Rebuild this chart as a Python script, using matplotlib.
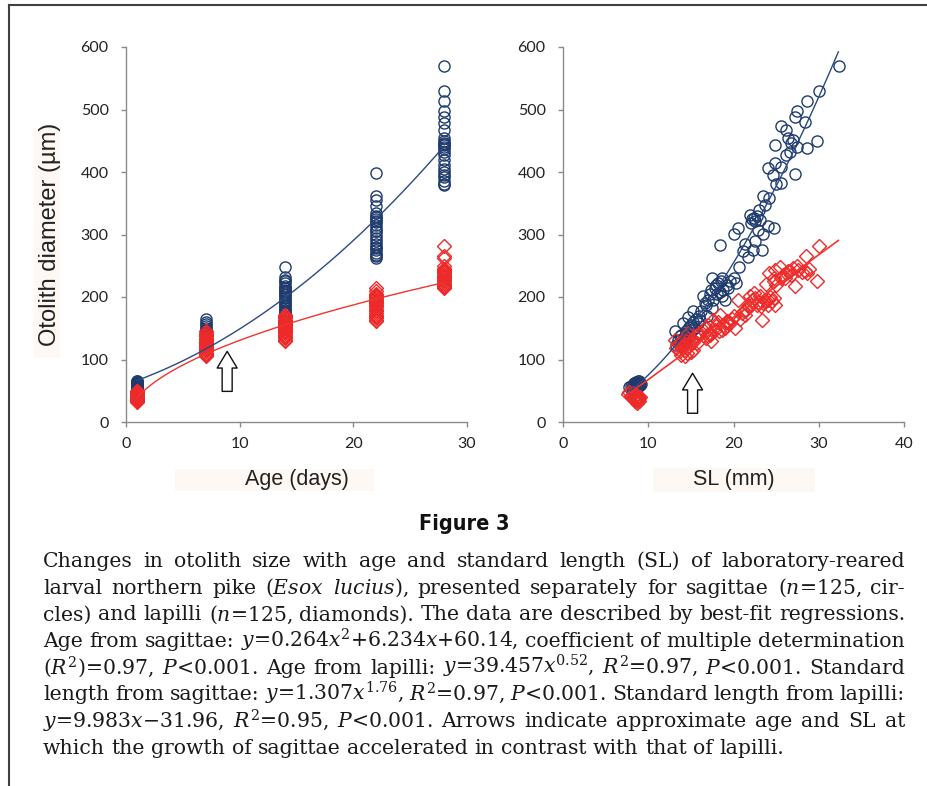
import matplotlib
matplotlib.use('Agg')
import matplotlib.pyplot as plt
import numpy as np
from matplotlib.lines import Line2D
from matplotlib.patches import Rectangle

plt.rcParams['mathtext.fontset'] = 'dejavuserif'

# ---------------- data ----------------
ages = [1, 7, 14, 22, 28]
sag_age = [
    [50, 51, 52, 53, 54, 55, 55, 56, 57, 57, 58, 58, 59, 60, 60, 61, 61, 62, 62, 63, 63, 64, 65, 66, 56],
    [165, 160, 157, 153, 150, 148, 147, 145, 143, 142, 140, 138, 137, 135, 133, 132, 130, 128, 127, 125, 123, 122, 120, 118, 140],
    [248, 232, 228, 225, 222, 218, 215, 212, 210, 208, 205, 203, 200, 198, 195, 192, 190, 188, 185, 183, 180, 178, 176, 175, 215],
    [398, 362, 355, 345, 335, 330, 328, 325, 322, 320, 315, 310, 305, 300, 295, 290, 285, 280, 278, 275, 270, 268, 265, 262, 305],
    [570, 530, 513, 497, 488, 478, 468, 455, 450, 447, 445, 443, 440, 437, 432, 428, 420, 412, 405, 400, 395, 392, 385, 381, 380],
]
lap_age = [
    [32, 33, 34, 35, 36, 36, 37, 38, 38, 39, 40, 40, 41, 42, 42, 43, 44, 45, 46, 47, 48, 49, 50, 39, 41],
    [105, 107, 109, 111, 113, 115, 117, 118, 120, 121, 122, 124, 125, 127, 128, 130, 132, 133, 135, 137, 139, 140, 142, 145, 126],
    [130, 132, 134, 136, 138, 140, 142, 144, 146, 148, 150, 151, 152, 154, 155, 157, 158, 160, 162, 164, 166, 168, 170, 172, 150],
    [162, 164, 166, 168, 170, 172, 175, 178, 180, 183, 185, 187, 188, 190, 192, 193, 195, 196, 198, 200, 201, 203, 205, 210, 215],
    [215, 216, 218, 220, 222, 223, 225, 227, 228, 230, 232, 233, 235, 236, 238, 240, 242, 243, 245, 245, 250, 263, 265, 282, 240],
]

sl_sag = [7.8, 8.0, 8.1, 8.2, 8.3, 8.3, 8.4, 8.4, 8.5, 8.5, 8.6, 8.6, 8.7, 8.7, 8.8, 8.8, 8.9, 8.9, 9.0, 9.0, 8.2, 8.5, 8.7, 8.9, 9.1,
          13.1, 13.3, 13.5, 13.7, 13.8, 14.0, 14.1, 14.2, 14.3, 14.4, 14.5, 14.6, 14.7, 14.8, 14.9, 15.0, 15.1, 15.2, 15.3, 15.4, 15.5, 15.6, 15.8, 16.0, 16.1,
          16.2, 16.4, 16.6, 16.8, 17.0, 17.2, 17.4, 17.5, 17.6, 17.8, 18.0, 18.1, 18.2, 18.4, 18.5, 18.6, 18.7, 18.8, 19.0, 19.2, 19.4, 19.6, 17.5, 18.4, 16.9,
          20.0, 20.0, 20.3, 20.5, 20.7, 21.1, 21.4, 21.7, 21.9, 22.0, 22.2, 22.3, 22.4, 22.5, 22.5, 22.7, 22.9, 23.1, 23.4, 23.5, 23.7, 24.1, 24.2, 24.7, 23.0,
          23.5, 24.1, 24.6, 24.9, 24.9, 25.0, 25.6, 25.6, 25.6, 26.2, 26.2, 26.4, 26.6, 26.8, 27.0, 27.2, 27.2, 27.4, 28.4, 28.6, 28.6, 29.8, 30.0, 32.4, 27.4]
sag_sl = [56, 58, 55, 60, 57, 62, 54, 59, 61, 63, 56, 64, 58, 60, 62, 66, 57, 65, 60, 63, 52, 53, 55, 59, 61,
          146, 124, 132, 137, 140, 128, 158, 135, 129, 145, 148, 142, 168, 152, 137, 155, 147, 160, 177, 150, 150, 165, 158, 170, 163,
          178, 201, 190, 187, 195, 205, 211, 230, 196, 215, 219, 205, 222, 284, 225, 230, 201, 212, 195, 220, 215, 225, 183, 208, 170,
          230, 301, 222, 311, 248, 274, 285, 264, 332, 318, 325, 275, 326, 321, 289, 330, 308, 323, 275, 301, 347, 313, 358, 311, 340,
          362, 406, 396, 443, 415, 381, 474, 408, 382, 467, 427, 454, 432, 446, 451, 488, 397, 497, 480, 439, 513, 449, 529, 569, 440]

sl_lap = [7.6, 7.8, 8.0, 8.1, 8.2, 8.3, 8.4, 8.4, 8.5, 8.5, 8.6, 8.6, 8.7, 8.7, 8.8, 8.8, 8.9, 8.9, 9.0, 8.3, 8.5, 8.7, 8.2, 8.6, 8.8,
          13.1, 13.3, 13.5, 13.7, 13.8, 13.9, 14.0, 14.1, 14.2, 14.3, 14.4, 14.5, 14.5, 14.6, 14.7, 14.8, 14.9, 15.0, 15.1, 15.2, 15.3, 15.5, 15.7, 15.9, 14.3,
          16.0, 16.4, 16.6, 16.8, 17.0, 17.2, 17.4, 17.6, 17.8, 18.0, 18.2, 18.4, 18.6, 18.8, 19.0, 19.2, 19.4, 19.6, 19.8, 20.0, 20.2, 17.3, 18.3, 19.1, 16.9,
          20.5, 20.8, 21.0, 21.3, 21.5, 21.7, 21.9, 22.1, 22.2, 22.4, 22.5, 22.7, 22.9, 23.1, 23.2, 23.4, 23.5, 23.7, 24.0, 24.1, 24.3, 24.5, 24.7, 24.9, 21.2,
          23.8, 24.2, 24.7, 24.7, 24.9, 25.0, 25.5, 25.6, 26.0, 26.2, 26.4, 26.6, 26.8, 27.0, 27.2, 27.4, 27.6, 28.0, 28.4, 28.5, 28.6, 28.8, 29.8, 30.0, 25.8]
lap_sl = [45, 48, 42, 44, 38, 46, 35, 41, 33, 40, 37, 44, 31, 39, 36, 42, 34, 38, 40, 47, 36, 33, 43, 35, 39,
          132, 118, 125, 113, 128, 108, 120, 121, 115, 124, 130, 110, 118, 135, 142, 122, 126, 112, 132, 128, 116, 138, 126, 139, 105,
          143, 147, 150, 134, 155, 142, 129, 163, 148, 153, 160, 171, 147, 155, 150, 162, 158, 159, 165, 169, 150, 139, 145, 160, 140,
          196, 165, 175, 171, 180, 185, 201, 187, 195, 206, 199, 187, 192, 201, 185, 163, 190, 195, 188, 195, 200, 193, 198, 187, 178,
          221, 238, 225, 230, 244, 219, 248, 230, 230, 238, 242, 241, 235, 246, 217, 249, 243, 240, 242, 266, 239, 245, 226, 281, 236]

# regression coefficients from the caption
sag_age_coef = (0.264, 6.234, 60.14)
lap_age_coef = (39.457, 0.52)
sag_sl_coef = (1.307, 1.76)
lap_sl_coef = (9.983, -31.96)
age_fit_range = (1, 28)
sl_fit_range = (7.9, 32.3)

arrow_age = (8.9, 49, 113)
arrow_sl = (15.2, 14, 78)

xlim_age, xlim_sl = 30, 40
yticks = [0, 100, 200, 300, 400, 500, 600]

caption_lines = [
    "Changes in otolith size with age and standard length (SL) of laboratory-reared",
    "larval northern pike ($Esox$ $lucius$), presented separately for sagittae ($n$=125, cir-",
    "cles) and lapilli ($n$=125, diamonds). The data are described by best-fit regressions.",
    "Age from sagittae: $y$=0.264$x^2$+6.234$x$+60.14, coefficient of multiple determination",
    "($R^2$)=0.97, $P$<0.001. Age from lapilli: $y$=39.457$x^{0.52}$, $R^2$=0.97, $P$<0.001. Standard",
    "length from sagittae: $y$=1.307$x^{1.76}$, $R^2$=0.97, $P$<0.001. Standard length from lapilli:",
    "$y$=9.983$x$\u221231.96, $R^2$=0.95, $P$<0.001. Arrows indicate approximate age and SL at",
    "which the growth of sagittae accelerated in contrast with that of lapilli.",
]

# ---------------- styling ----------------
BLUE = '#1f3b6d'
RED = '#ec2a2a'
BLUE_LINE = '#2a4a82'
RED_LINE = '#f0352e'
GREY = '#8a8a8a'

W, H = 927, 786
fig = plt.figure(figsize=(W / 100, H / 100), dpi=100)
fig.patch.set_facecolor('white')


def fx(px):
    return px / W


def fy(py):
    return 1 - py / H


# faint background smudges behind axis labels
for (x0, y0, x1, y1) in [(175, 469, 374, 491), (653, 468, 815, 492), (34, 128, 60, 358)]:
    fig.add_artist(Rectangle((fx(x0), fy(y1)), fx(x1) - fx(x0), fy(y0) - fy(y1),
                             transform=fig.transFigure, facecolor='#fdf8f4',
                             edgecolor='none', zorder=-5))

# frame lines (top and left)
fig.add_artist(Line2D([fx(9), 1.0], [fy(5), fy(5)], transform=fig.transFigure,
                      color='#404040', lw=1.5))
fig.add_artist(Line2D([fx(9), fx(9)], [fy(5), 0.0], transform=fig.transFigure,
                      color='#404040', lw=1.5))

axL = fig.add_axes([fx(126), fy(422), fx(467) - fx(126), fy(47) - fy(422)])
axR = fig.add_axes([fx(563), fy(422), fx(904) - fx(563), fy(47) - fy(422)])
for ax in (axL, axR):
    ax.set_facecolor('none')
    ax.set_zorder(2)


def style(ax, xmax, xlabel):
    ax.set_xlim(0, xmax)
    ax.set_ylim(0, 600)
    ax.set_yticks(yticks)
    ax.set_xticks(np.arange(0, xmax + 1, 10))
    for s in ('top', 'right'):
        ax.spines[s].set_visible(False)
    for s in ('left', 'bottom'):
        ax.spines[s].set_color(GREY)
        ax.spines[s].set_linewidth(1.0)
    ax.tick_params(direction='out', length=3.5, width=1.0, color=GREY,
                   labelsize=11.5, labelcolor='#222222')
    ax.tick_params(axis='y', pad=9)
    ax.tick_params(axis='x', pad=7)
    for lab in ax.get_xticklabels() + ax.get_yticklabels():
        lab.set_family('Lato')
    ax.set_xlabel(xlabel, fontsize=15.5, family='Liberation Sans', color='#222222', labelpad=13)


style(axL, xlim_age, 'Age (days)')
style(axR, xlim_sl, 'SL (mm)')
axL.set_ylabel('Otolith diameter (\u00b5m)', fontsize=17, family='Liberation Sans',
               color='#222222', labelpad=14)

mk = dict(linestyle='none', markerfacecolor='none')
# left panel points
for a, s_vals in zip(ages, sag_age):
    axL.plot([a] * len(s_vals), s_vals, marker='o', markersize=8, markeredgecolor=BLUE,
             markeredgewidth=1.0, **mk, zorder=2)
for a, l_vals in zip(ages, lap_age):
    axL.plot([a] * len(l_vals), l_vals, marker='D', markersize=6.7, markeredgecolor=RED,
             markeredgewidth=1.0, **mk, zorder=3)

xa = np.linspace(age_fit_range[0], age_fit_range[1], 200)
axL.plot(xa, sag_age_coef[0] * xa ** 2 + sag_age_coef[1] * xa + sag_age_coef[2],
         color=BLUE_LINE, lw=1.0, zorder=4)
axL.plot(xa, lap_age_coef[0] * xa ** lap_age_coef[1], color=RED_LINE, lw=1.0, zorder=4)

# right panel points
axR.plot(sl_sag, sag_sl, marker='o', markersize=8, markeredgecolor=BLUE,
         markeredgewidth=1.0, **mk, zorder=2)
axR.plot(sl_lap, lap_sl, marker='D', markersize=6.7, markeredgecolor=RED,
         markeredgewidth=1.0, **mk, zorder=3)
xs = np.linspace(sl_fit_range[0], sl_fit_range[1], 200)
axR.plot(xs, sag_sl_coef[0] * xs ** sag_sl_coef[1], color=BLUE_LINE, lw=1.0, zorder=4)
axR.plot(xs, lap_sl_coef[0] * xs + lap_sl_coef[1], color=RED_LINE, lw=1.2, zorder=4)


def up_arrow(ax, spec):
    x, y0, y1 = spec
    ax.annotate('', xy=(x, y1), xytext=(x, y0),
                arrowprops=dict(arrowstyle='simple,head_length=0.6,head_width=0.72,tail_width=0.36',
                                fc='white', ec='#111111', lw=1.0, shrinkA=0, shrinkB=0,
                                mutation_scale=20), zorder=5)


up_arrow(axL, arrow_age)
up_arrow(axR, arrow_sl)

# Figure title
fig.text(fx(464), fy(524), 'Figure 3', ha='center', va='center', fontsize=15.5,
         fontweight='bold', fontstretch='condensed', family=['DejaVu Sans'], color='#111111')

# Caption, justified
renderer = fig.canvas.get_renderer()
x_left, x_right = 43, 905
line_w = x_right - x_left
cap_fs = 12.8
cap_family = ['DejaVu Serif']


def measure(s, fs):
    t = fig.text(0, 0, s, fontsize=fs, family=cap_family)
    w = t.get_window_extent(renderer).width
    t.remove()
    return w


space_w = measure('x x', cap_fs) - measure('xx', cap_fs)
natural = [sum(measure(w, cap_fs) for w in ln.split(' ')) + space_w * 0.9 * (len(ln.split(' ')) - 1)
           for ln in caption_lines]
cap_fs = cap_fs * line_w / max(natural)
space_w = measure('x x', cap_fs) - measure('xx', cap_fs)

baseline0 = 567
line_step = 26.7
for i, ln in enumerate(caption_lines):
    words = ln.split(' ')
    widths = [measure(w, cap_fs) for w in words]
    if i < len(caption_lines) - 1:
        gap = (line_w - sum(widths)) / (len(words) - 1)
    else:
        gap = space_w
    x = x_left
    yb = baseline0 + i * line_step
    for w, wd in zip(words, widths):
        fig.text(fx(x), fy(yb), w, fontsize=cap_fs, family=cap_family, ha='left',
                 va='baseline', color='#1a1a1a')
        x += wd + gap

fig.savefig('out.png', dpi=100, facecolor='white')
